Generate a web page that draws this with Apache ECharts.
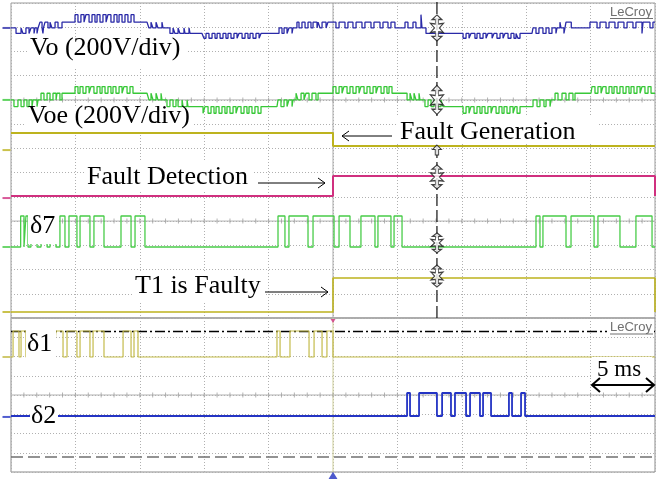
<!DOCTYPE html>
<html><head><meta charset="utf-8">
<script src="https://cdn.jsdelivr.net/npm/echarts@6/dist/echarts.min.js"></script>
<style>html,body{margin:0;padding:0;background:#fff}#c{width:656px;height:479px}</style>
</head><body><div id="c"></div><script>
// ---------- time base (5 ms/div, 10 div) ----------
const timeMinMs = 0, timeMaxMs = 50, timePerDivMs = 5;
const faultTimeMs = 25.0;
const cursorTimeMs = 33.07;

// ---------- Vo (V, 200 V/div) levels ----------
const voLevels = {A: 110, B: 48, Z: 0, N: -45, M: -85};
// [start ms, base level, pulse level, [[pulse start, pulse end, (optional level)]]]
const voSegments = [
  [0.00,'Z','Z',[]],
  [0.39,'N','Z',[[0.78,0.93],[1.16,1.40],[1.55,1.79],[1.86,2.02]]],
  [2.10,'Z','B',[[2.25,2.41],[2.48,2.52,'N'],[2.64,2.87],[3.03,3.18],[3.42,3.65]]],
  [3.96,'B','B',[]],
  [4.81,'B','A',[[4.97,5.20],[5.43,5.67],[5.82,6.06],[6.29,6.52],[6.68,6.91],[7.14,7.38],[7.53,7.76],[8.00,8.23],[8.39,8.62],[8.85,9.08],[9.32,9.55]]],
  [9.78,'B','B',[]],
  [10.56,'B','Z',[[10.71,10.87],[11.02,11.26],[11.41,11.72]]],
  [11.80,'Z','N',[[12.34,12.58],[12.73,12.97],[13.12,13.43],[13.51,13.82]]],
  [13.90,'N','N',[]],
  [14.83,'N','M',[[14.98,15.14],[15.37,15.61],[15.84,16.00],[16.23,16.46],[16.69,16.85],[17.08,17.31],[17.55,17.70],[17.94,18.17],[18.40,18.56],[18.79,19.02],[19.26,19.41]]],
  [19.72,'N','N',[]],
  [20.65,'N','Z',[[20.81,21.04],[21.20,21.43],[21.58,21.82]]],
  [21.89,'Z','B',[[22.20,22.36],[22.59,22.83],[23.06,23.29],[23.45,23.76]]],
  [23.84,'B','Z',[[23.99,24.15],[24.46,24.61],[25.23,25.47],[25.93,26.16],[26.55,26.79],[27.25,27.48],[27.95,28.18],[28.65,28.88],[29.27,29.50]]],
  [29.81,'Z','B',[[30.59,30.82],[31.21,31.44],[31.83,31.91,'A']]],
  [32.22,'N','N',[]],
  [34.94,'N','M',[[35.10,35.33],[35.56,35.71],[36.02,36.18],[36.41,36.65],[36.88,37.03],[37.35,37.50],[37.73,37.97],[38.20,38.35],[38.59,38.82],[39.05,39.21],[39.36,39.52]]],
  [39.60,'N','N',[]],
  [40.45,'N','Z',[[40.53,40.76],[40.99,41.30],[41.54,41.77],[42.00,42.31]]],
  [42.39,'Z','B',[[42.62,42.70],[42.93,43.01,'N'],[43.09,43.50]]],
  [43.56,'Z','Z',[]],
  [44.95,'B','Z',[[45.50,45.73],[46.20,46.43],[46.89,47.13],[47.59,47.83],[48.29,48.52],[48.99,49.07,'N'],[49.61,49.84]]]
];

// ---------- Voe (V, 200 V/div) levels ----------
const voeLevels = {A: 110, B: 55, Z: 0, N: -55, M: -110};
const voeSegments = [
  [0.00,'Z','Z',[]],
  [0.23,'N','Z',[[0.54,0.78],[1.01,1.24],[1.40,1.63],[1.71,2.02]]],
  [2.10,'Z','B',[[2.33,2.56],[2.80,3.03],[3.26,3.50],[3.57,3.80]]],
  [3.96,'B','B',[]],
  [4.81,'B','A',[[4.97,5.20],[5.36,5.59],[5.82,6.06],[6.21,6.44],[6.68,6.91],[7.07,7.30],[7.53,7.76],[7.92,8.15],[8.39,8.62],[8.77,9.01],[9.24,9.47]]],
  [9.78,'B','B',[]],
  [10.56,'B','Z',[[10.71,10.87],[11.02,11.26],[11.41,11.65]]],
  [11.72,'Z','N',[[12.11,12.34],[12.58,12.81],[12.97,13.28],[13.36,13.67]]],
  [13.74,'N','N',[]],
  [14.67,'N','M',[[14.91,15.06],[15.30,15.53],[15.76,15.92],[16.15,16.38],[16.61,16.77],[17.00,17.24],[17.47,17.62],[17.86,18.09],[18.32,18.48],[18.71,18.94],[19.18,19.41]]],
  [19.72,'N','N',[]],
  [20.65,'N','Z',[[20.73,20.96],[21.20,21.43],[21.58,21.82]]],
  [21.89,'Z','B',[[22.13,22.28],[22.52,22.75],[22.90,23.14],[23.37,23.68]]],
  [23.84,'B','B',[]],
  [24.84,'B','A',[[25.00,25.23],[25.47,25.70],[25.85,26.09],[26.32,26.55],[26.79,27.02],[27.17,27.41],[27.64,27.87],[28.11,28.34],[28.49,28.73],[28.96,29.19],[29.35,29.58]]],
  [29.66,'B','B',[]],
  [30.59,'B','Z',[[30.75,30.98],[31.13,31.29],[31.44,31.68]]],
  [31.75,'Z','N',[[32.14,32.38],[32.61,32.84],[33.07,33.39]]],
  [33.54,'N','N',[]],
  [34.94,'N','M',[[35.10,35.33],[35.56,35.71],[35.95,36.18],[36.41,36.57],[36.80,37.03],[37.27,37.42],[37.66,37.89],[38.12,38.28],[38.51,38.74],[38.98,39.13],[39.29,39.52]]],
  [39.60,'N','N',[]],
  [40.37,'N','Z',[[40.53,40.84],[41.07,41.38],[41.54,41.85]]],
  [41.93,'Z','B',[[42.24,42.47],[42.78,43.09],[43.32,43.63]]],
  [43.79,'B','B',[]],
  [45.03,'B','A',[[45.11,45.34],[45.57,45.81],[45.96,46.20],[46.43,46.66],[46.82,47.05],[47.28,47.52],[47.75,47.98],[48.14,48.37],[48.60,48.84],[48.99,49.22],[49.46,49.69]]]
];

// ---------- logic signals: high intervals in ms ----------
const delta7High = [[0.75,1.01],[1.16,1.32],[1.55,2.02],[2.33,2.80],[3.03,3.49],[3.80,4.19],[4.50,5.12],[5.36,6.13],[6.44,7.22],[8.54,9.32],[9.63,10.40],
  [20.73,21.27],[21.58,23.06],[23.45,25.08],[25.47,26.32],[27.17,28.26],[28.49,29.50],[29.74,30.36],
  [40.76,41.07],[41.30,43.09],[43.48,45.27],[45.57,47.28],[48.52,49.77]];
const delta1High = [[0.16,0.62],[0.78,1.16],[1.48,1.94],[2.25,2.72],[2.95,3.34],[3.49,4.04],[4.35,5.12],[5.36,6.13],[6.37,7.22],[8.70,9.32],[9.55,9.86],
  [20.65,20.89],[21.66,23.14],[23.53,24.15],[24.53,25.00]];
const delta2High = [[30.75,30.98],[31.68,33.07],[33.47,34.16],[34.47,35.33],[35.64,36.41],[36.65,37.27],[38.66,38.90],[39.60,39.91]];
const faultDetectionHigh = [[25.00,50.00]];
const t1FaultyHigh = [[25.00,50.00]];
const logicLevels = {L: 0, H: 1};

// ---------- layout (pixel geometry of the two screen panels) ----------
const UP = {left: 11, top: 3, width: 644, height: 315};   // 13 divisions
const LO = {left: 11, top: 318, width: 644, height: 154}; // 8 divisions

function stepPoints(segments, levels) {
  const pts = []; let cur = null;
  const push = (t, v) => { if (cur !== null) pts.push([t, cur]); pts.push([t, v]); cur = v; };
  segments.forEach(([t0, base, peak, pulses]) => {
    push(t0, levels[base]);
    pulses.forEach(p => { push(p[0], levels[p[2] || peak]); push(p[1], levels[base]); });
  });
  pts.push([timeMaxMs, cur]);
  return pts;
}
const logic = highs => stepPoints([[timeMinMs, 'L', 'H', highs]], logicLevels);

const channels = [
  {name:'Vo', pts: stepPoints(voSegments, voLevels), g:0, zero:11.97, gain:1/200, mark:11.97, color:'#2a2aa8', w:1.3},
  {name:'Voe', pts: stepPoints(voeSegments, voeLevels), g:0, zero:9.0, gain:1/200, mark:9.0, color:'#38c838', w:1.3},
  {name:'FaultGen', pts: stepPoints([[0,'H','H',[]],[faultTimeMs,'L','L',[]]], logicLevels), g:0, zero:7.10, gain:0.537, mark:6.93, color:'#bdb31e', w:2},
  {name:'FaultDet', pts: logic(faultDetectionHigh), g:0, zero:5.035, gain:0.825, mark:4.95, color:'#d0307f', w:2},
  {name:'d7', pts: logic(delta7High), g:0, zero:2.93, gain:1.279, mark:2.93, color:'#48cc48', w:1.3},
  {name:'T1', pts: logic(t1FaultyHigh), g:0, zero:0.248, gain:1.403, mark:0.248, color:'#bdb31e', w:1.6},
  {name:'d1', pts: logic(delta1High), g:1, zero:5.974, gain:1.351, mark:5.974, color:'#c4bb4a', w:1.2},
  {name:'d2', pts: logic(delta2High), g:1, zero:2.909, gain:1.195, mark:2.86, color:'#2434c4', w:1.8}
];

const dotted = {color:'#b0b0b0', type:[1,2], width:1};
function xAx(g){return {gridIndex:g,type:'value',min:timeMinMs,max:timeMaxMs,interval:timePerDivMs,
  axisLine:{show:false},axisTick:{show:false},axisLabel:{show:false},splitLine:{show:true,lineStyle:dotted}};}
function yAx(g,max){return {gridIndex:g,type:'value',min:0,max:max,interval:1,
  axisLine:{show:false},axisTick:{show:false},axisLabel:{show:false},splitLine:{show:true,lineStyle:dotted}};}

const series = [];
const hline = (g, y, style, z) => series.push({type:'line', xAxisIndex:g, yAxisIndex:g, data:[[timeMinMs,y],[timeMaxMs,y]],
  symbol:'none', silent:true, lineStyle:style, z:z||1});
hline(0, 9, {color:'#b0b0b0', width:1}); hline(0, 4, {color:'#b0b0b0', width:1}); hline(1, 4, {color:'#b0b0b0', width:1});
series.push({type:'line', xAxisIndex:0, yAxisIndex:0, data:[[faultTimeMs,0],[faultTimeMs,13]], symbol:'none', silent:true, lineStyle:{color:'#aaaaaa', width:1}, z:1});
series.push({type:'line', xAxisIndex:1, yAxisIndex:1, data:[[faultTimeMs,0],[faultTimeMs,8]], symbol:'none', silent:true, lineStyle:{color:'#cfcf9a', width:1}, z:1});
const tickPts = (y) => { const a=[]; for (let t=timeMinMs+1; t<timeMaxMs; t++) a.push([t,y]); return a; };
[[0,9],[0,4],[1,4]].forEach(([g,y]) => series.push({type:'scatter', xAxisIndex:g, yAxisIndex:g, data:tickPts(y), symbol:'rect', symbolSize:[1,5], silent:true, itemStyle:{color:'#a0a0a0'}, z:1}));
hline(1, 7.30, {color:'#000', width:1.3, type:[10,3,2,3]}, 2);
hline(1, 0.78, {color:'#707070', width:1.5, type:[12,5]}, 2);

channels.forEach(ch => {
  series.push({type:'line', name:ch.name, xAxisIndex:ch.g, yAxisIndex:ch.g, symbol:'none', silent:true, z:3,
    data: ch.pts.map(([t,v]) => [t, ch.zero + v*ch.gain]), lineStyle:{color:ch.color, width:ch.w}});
  series.push({type:'scatter', xAxisIndex:ch.g, yAxisIndex:ch.g, clip:false, silent:true, z:3,
    data:[[-0.35, ch.mark]], symbol:'rect', symbolSize:[8,2], itemStyle:{color:ch.color}});
});

series.push({type:'line', xAxisIndex:0, yAxisIndex:0, data:[[cursorTimeMs,0],[cursorTimeMs,13.1]], symbol:'none', silent:true, clip:false,
  lineStyle:{color:'#111', width:1.2, type:[12,4]}, z:4});
const starPath = 'path://M10,0 L16,7 L12,7 L12,14 L18,13 L13,20 L18,27 L12,26 L12,33 L16,33 L10,40 L4,33 L8,33 L8,26 L2,27 L7,20 L2,13 L8,14 L8,7 L4,7 Z';
const upPath = 'path://M10,0 L18,9 L13,9 L13,20 L7,20 L7,9 L2,9 Z';
const cursorMarks = [[11.97,[13,26]],[9.0,[13,29]],[5.82,[13,24]],[3.10,[12,20]],[1.73,[12,22]]];
series.push({type:'scatter', xAxisIndex:0, yAxisIndex:0, silent:true, z:5,
  data: cursorMarks.map(([y,s]) => ({value:[cursorTimeMs,y], symbolSize:s})), symbol:starPath,
  itemStyle:{color:'#fff', borderColor:'#111', borderWidth:1}});
series.push({type:'scatter', xAxisIndex:0, yAxisIndex:0, silent:true, z:5, data:[[cursorTimeMs,6.93]], symbol:upPath, symbolSize:[9,10],
  itemStyle:{color:'#fff', borderColor:'#111', borderWidth:1}});
series.push({type:'scatter', xAxisIndex:1, yAxisIndex:1, silent:true, clip:false, z:5, data:[[faultTimeMs,-0.2]], symbol:'triangle', symbolSize:[10,8], itemStyle:{color:'#2030c0'}});
series.push({type:'scatter', xAxisIndex:1, yAxisIndex:1, silent:true, clip:false, z:5, data:[[faultTimeMs,7.84]], symbol:'triangle', symbolRotate:180, symbolSize:[5,4], itemStyle:{color:'#d03080'}});

const SERIF = '"Liberation Serif","Times New Roman",serif';
const labels = [
  ['Vo (200V/div)', 30, 48, 26, [28,38,158,29]],
  ['Voe (200V/div)', 28, 116.5, 26, [26,108,168,23]],
  ['Fault Generation', 400, 132.5, 26, [397,116,200,28]],
  ['Fault Detection', 87, 177.5, 26, [84,162,170,30]],
  ['\u03B47', 30, 226.5, 26, [28,209,31,35]],
  ['T1 is Faulty', 135, 286.5, 26, [132,273,133,30]],
  ['\u03B41', 27, 344.5, 26, [26,330,30,29]],
  ['\u03B42', 31, 416.5, 26, [30,402,28,29]],
  ['5 ms', 597, 369.5, 23, [592,357,60,24]]
];
const graphic = [];
labels.forEach(([txt,x,y,fs,b]) => {
  graphic.push({type:'rect', silent:true, z:50, shape:{x:b[0],y:b[1],width:b[2],height:b[3]}, style:{fill:'#fff'}});
  graphic.push({type:'text', silent:true, z:51, x:x, y:y, style:{text:txt, font:fs+'px '+SERIF, fill:'#000', align:'left', verticalAlign:'middle'}});
});
const arrows = [
  [[392,136],[342,136],[349,131],[349,141],1],
  [[258,183],[325,183],[318,178],[318,188],1],
  [[265,292],[328,292],[321,287],[321,297],1]
];
arrows.forEach(([a,b,h1,h2,w]) => {
  graphic.push({type:'polyline', silent:true, z:52, shape:{points:[a,b]}, style:{stroke:'#000', lineWidth:w}});
  graphic.push({type:'polyline', silent:true, z:52, shape:{points:[h1,b,h2]}, style:{stroke:'#000', lineWidth:w, fill:null}});
});
graphic.push({type:'polyline', silent:true, z:52, shape:{points:[[592,385],[654,385]]}, style:{stroke:'#000', lineWidth:2}});
graphic.push({type:'polyline', silent:true, z:52, shape:{points:[[600,378],[592,385],[600,392]]}, style:{stroke:'#000', lineWidth:2, fill:null}});
graphic.push({type:'polyline', silent:true, z:52, shape:{points:[[646,378],[654,385],[646,392]]}, style:{stroke:'#000', lineWidth:2, fill:null}});
[[6,12],[321,327.5]].forEach(([by,ty]) => {
  graphic.push({type:'rect', silent:true, z:50, shape:{x:607,y:by,width:47,height:14}, style:{fill:'#fff'}});
  graphic.push({type:'text', silent:true, z:51, x:610, y:ty, style:{text:'LeCroy', font:'13px "Liberation Sans",Arial,sans-serif', fill:'#707070', verticalAlign:'middle'}});
  graphic.push({type:'line', silent:true, z:51, shape:{x1:610,y1:ty+6.5,x2:653,y2:ty+6.5}, style:{stroke:'#707070', lineWidth:1}});
});

const chart = echarts.init(document.getElementById('c'));
chart.setOption({
  animation:false, backgroundColor:'#fff',
  grid:[Object.assign({show:true, borderColor:'#9a9a9a', borderWidth:1}, UP), Object.assign({show:true, borderColor:'#8a8a8a', borderWidth:1}, LO)],
  xAxis:[xAx(0), xAx(1)],
  yAxis:[yAx(0,13), yAx(1,8)],
  series: series,
  graphic: graphic
});
</script></body></html>
